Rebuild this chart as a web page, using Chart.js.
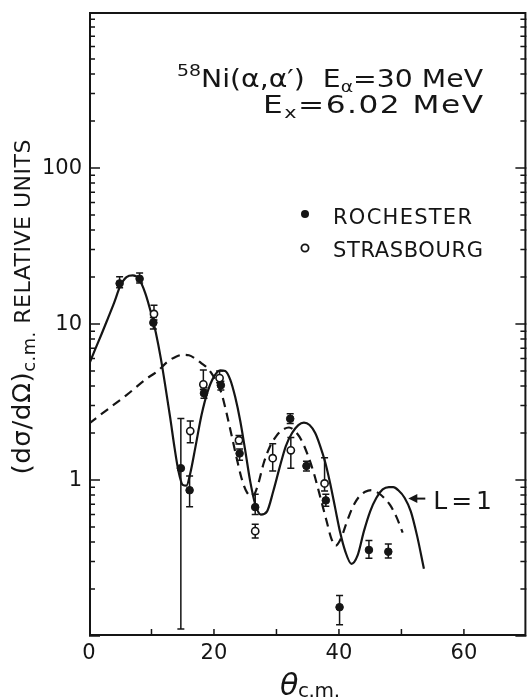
<!DOCTYPE html>
<html>
<head>
<meta charset="utf-8">
<script src="https://cdn.jsdelivr.net/npm/chart.js@4.4.1/dist/chart.umd.min.js"></script>
<style>
  html, body { margin: 0; padding: 0; background: #fff; }
  #wrap { width: 532px; height: 700px; }
</style>
</head>
<body>
<div id="wrap"><canvas id="chart" width="532" height="700"></canvas></div>
<script>
const INK = "#151515";
const FONT = "\"DejaVu Sans\", \"Liberation Sans\", sans-serif";

// Rochester data (filled circles): theta c.m. in degrees, cross section in relative units
const rochesterTheta = [4.9, 8.1, 10.3, 14.7, 16.1, 18.4, 21.1, 24.1, 26.6, 32.2, 34.8, 37.9, 40.1, 44.8, 47.9];
const rochesterSigma = [18.2, 19.5, 10.2, 1.19, 0.86, 3.6, 4.05, 1.48, 0.67, 2.47, 1.23, 0.74, 0.153, 0.356, 0.347];
const rochesterLow = [17.1, 18.3, 9.3, 0.111, 0.675, 3.34, 3.78, 1.34, 0.6, 2.30, 1.14, 0.68, 0.118, 0.315, 0.316];
const rochesterHigh = [20.1, 21.2, 11.0, 2.48, 1.06, 3.9, 4.3, 1.58, 0.81, 2.66, 1.32, 0.81, 0.182, 0.41, 0.389];

// Strasbourg data (open circles)
const strasbourgTheta = [10.4, 16.2, 18.3, 20.9, 24.0, 26.6, 29.4, 32.3, 37.7];
const strasbourgSigma = [11.6, 2.06, 4.1, 4.5, 1.80, 0.47, 1.38, 1.55, 0.95];
const strasbourgLow = [10.6, 1.73, 3.8, 4.2, 1.7, 0.425, 1.14, 1.19, 0.85];
const strasbourgHigh = [13.2, 2.39, 5.07, 5.0, 1.93, 0.52, 1.71, 1.87, 1.39];

// L=1 calculation (solid curve)
const fitTheta = [0, 1, 2, 3, 4, 5, 6, 7, 8, 9, 10, 10.7, 11.5, 12.3, 13, 13.7, 14.3, 15, 15.6, 16.2,
  17, 18, 19, 20, 21, 21.8, 22.6, 23.4, 24.2, 25, 25.8, 26.6, 27.5, 28.5, 29.5, 30.5, 31.5, 32.5, 33.5, 34.4,
  35.3, 36.2, 37, 37.8, 38.6, 39.4, 40.2, 41, 42, 43, 44, 45, 46, 47, 48, 48.7, 49.5, 50.5, 51.5, 52.5, 53.6];
const fitL1 = [5.5, 6.9, 8.6, 10.8, 13.6, 17.5, 20.0, 20.5, 19.4, 15.8, 11.5, 8.8, 6.0, 3.8, 2.5, 1.6, 1.15, 0.93, 0.92, 1.1,
  1.6, 2.6, 3.7, 4.6, 5.05, 5.0, 4.4, 3.4, 2.4, 1.55, 0.98, 0.7, 0.6, 0.63, 0.85, 1.2, 1.65, 2.0, 2.25, 2.33,
  2.25, 2.0, 1.65, 1.3, 0.95, 0.66, 0.46, 0.35, 0.29, 0.33, 0.47, 0.63, 0.77, 0.87, 0.9, 0.9, 0.86, 0.77, 0.63, 0.44, 0.27];

// second calculation (dashed curve)
const dashTheta = [0, 3, 6, 9, 11, 12.5, 14, 15, 16, 17, 18, 19, 19.8, 20.5, 21.2, 22, 22.8, 23.6, 24.4, 25.3,
  26.2, 27, 28, 29, 30, 31, 32, 33, 34, 35, 36, 37, 38, 38.8, 39.5, 40.3, 41.2, 42.2, 43.2, 44.2,
  45.2, 46.2, 47.2, 48.2, 49.2, 50.2];
const dashSigma = [2.3, 2.84, 3.5, 4.4, 5.0, 5.7, 6.2, 6.35, 6.3, 6.0, 5.6, 5.2, 4.7, 4.2, 3.6, 2.7, 1.95, 1.4, 1.03, 0.83,
  0.79, 0.92, 1.3, 1.65, 1.92, 2.1, 2.17, 2.05, 1.8, 1.45, 1.1, 0.78, 0.55, 0.42, 0.38, 0.42, 0.53, 0.67, 0.78, 0.84,
  0.86, 0.83, 0.77, 0.69, 0.58, 0.46];

const xTickValues = [0, 20, 40, 60];
const xTickLabels = ["0", "20", "40", "60"];
const xMinorTicks = [10, 20, 30, 40, 50, 60];
const yTickValues = [1, 10, 100];
const yTickLabels = ["1", "10", "100"];
const yDecades = [0.1, 1, 10, 100];

const labelTheta = 51.1;
const labelSigma = 0.76;

function toPoints(xs, ys) {
  return xs.map((x, i) => ({ x, y: ys[i] }));
}

// draws text runs (sub/superscripts) stretched a bit, then letter-spaced, to a target width
function drawRuns(ctx, runs, x, y, align, targetWidth, maxStretch) {
  let natural = 0;
  let chars = 0;
  ctx.letterSpacing = "0px";
  runs.forEach((run) => {
    ctx.font = `${run.style || ""} ${run.size}px ${FONT}`;
    run.w = ctx.measureText(run.text).width;
    natural += run.w;
    chars += [...run.text].length;
  });
  let stretch = 1;
  let gap = 0;
  if (targetWidth) {
    stretch = Math.min(maxStretch || 1, Math.max(1, targetWidth / natural));
    gap = Math.max(-2, (targetWidth - natural * stretch) / Math.max(1, chars - 1));
  }
  const total = natural * stretch + gap * (chars - 1);
  let cx = align === "right" ? x - total : align === "center" ? x - total / 2 : x;
  ctx.textAlign = "left";
  ctx.textBaseline = "alphabetic";
  runs.forEach((run) => {
    const n = [...run.text].length;
    ctx.save();
    ctx.font = `${run.style || ""} ${run.size}px ${FONT}`;
    ctx.letterSpacing = `${gap / stretch}px`;
    ctx.translate(cx, y + (run.dy || 0));
    ctx.scale(stretch, 1);
    ctx.fillText(run.text, 0, 0);
    ctx.restore();
    cx += run.w * stretch + gap * n;
  });
  ctx.letterSpacing = "0px";
}

const errorBars = {
  id: "errorBars",
  beforeDatasetsDraw(chart) {
    const { ctx, scales: { x, y } } = chart;
    const sets = [
      [rochesterTheta, rochesterLow, rochesterHigh],
      [strasbourgTheta, strasbourgLow, strasbourgHigh]
    ];
    ctx.save();
    ctx.strokeStyle = INK;
    ctx.lineWidth = 1.5;
    sets.forEach(([thetas, lows, highs]) => {
      thetas.forEach((t, i) => {
        const px = x.getPixelForValue(t);
        const top = y.getPixelForValue(highs[i]);
        const bottom = y.getPixelForValue(lows[i]);
        ctx.beginPath();
        ctx.moveTo(px, top);
        ctx.lineTo(px, bottom);
        ctx.moveTo(px - 3.5, top);
        ctx.lineTo(px + 3.5, top);
        ctx.moveTo(px - 3.5, bottom);
        ctx.lineTo(px + 3.5, bottom);
        ctx.stroke();
      });
    });
    ctx.restore();
  }
};

const frameAndText = {
  id: "frameAndText",
  afterDraw(chart) {
    const { ctx, chartArea: area, scales: { x, y } } = chart;
    ctx.save();
    ctx.strokeStyle = INK;
    ctx.fillStyle = INK;

    // frame
    ctx.lineWidth = 2;
    ctx.strokeRect(area.left + 1, area.top + 1, area.right - area.left - 2, area.bottom - area.top - 2);

    // inward ticks
    ctx.lineWidth = 1.5;
    ctx.beginPath();
    xMinorTicks.forEach((v) => {
      const px = x.getPixelForValue(v);
      ctx.moveTo(px, area.bottom);
      ctx.lineTo(px, area.bottom - 7);
    });
    yDecades.forEach((d) => {
      for (let m = 1; m <= 9; m++) {
        const py = y.getPixelForValue(d * m);
        const len = m === 1 ? 11 : 6;
        ctx.moveTo(area.left, py);
        ctx.lineTo(area.left + len, py);
        ctx.moveTo(area.right, py);
        ctx.lineTo(area.right - len, py);
      }
    });
    ctx.stroke();

    // tick labels
    ctx.font = `21px ${FONT}`;
    ctx.textAlign = "center";
    ctx.textBaseline = "top";
    xTickValues.forEach((v, i) => {
      ctx.fillText(xTickLabels[i], x.getPixelForValue(v), area.bottom + 7);
    });
    ctx.textAlign = "right";
    ctx.textBaseline = "middle";
    yTickValues.forEach((v, i) => {
      ctx.fillText(yTickLabels[i], area.left - 7, y.getPixelForValue(v) + 1);
    });

    // axis titles
    drawRuns(ctx, [
      { text: "θ", size: 30, style: "italic" },
      { text: "c.m.", size: 20, dy: 2 }
    ], 310, 695, "center", 60, 1);

    ctx.save();
    ctx.translate(30, 307);
    ctx.rotate(-Math.PI / 2);
    drawRuns(ctx, [
      { text: "(dσ/dΩ)", size: 25 },
      { text: "c.m.", size: 17, dy: 5 },
      { text: " RELATIVE UNITS", size: 21 }
    ], 0, 0, "center", 335, 1.05);
    ctx.restore();

    // reaction header
    drawRuns(ctx, [
      { text: "58", size: 16, dy: -11 },
      { text: "Ni(α,α′)  E", size: 24 },
      { text: "α", size: 16, dy: 5 },
      { text: "=30 MeV", size: 24 }
    ], 483, 87, "right", 306, 1.25);
    drawRuns(ctx, [
      { text: "E", size: 24 },
      { text: "x", size: 16, dy: 5 },
      { text: "=6.02 MeV", size: 24 }
    ], 483, 113, "right", 220, 1.3);

    // legend
    ctx.beginPath();
    ctx.arc(305, 214, 4, 0, Math.PI * 2);
    ctx.fill();
    ctx.beginPath();
    ctx.lineWidth = 1.8;
    ctx.arc(305, 248, 3.6, 0, Math.PI * 2);
    ctx.stroke();
    drawRuns(ctx, [{ text: "ROCHESTER", size: 21 }], 333, 224, "left", 139, 1);
    drawRuns(ctx, [{ text: "STRASBOURG", size: 21 }], 333, 257, "left", 150, 1);

    // L=1 arrow label
    const ax = x.getPixelForValue(labelTheta);
    const ay = y.getPixelForValue(labelSigma);
    ctx.lineWidth = 2;
    ctx.beginPath();
    ctx.moveTo(ax + 6, ay);
    ctx.lineTo(ax + 17, ay);
    ctx.stroke();
    ctx.beginPath();
    ctx.moveTo(ax, ay);
    ctx.lineTo(ax + 9, ay - 4.5);
    ctx.lineTo(ax + 9, ay + 4.5);
    ctx.closePath();
    ctx.fill();
    drawRuns(ctx, [{ text: "L = 1", size: 25 }], ax + 25, ay + 10, "left", 42, 1);

    ctx.restore();
  }
};

new Chart(document.getElementById("chart"), {
  type: "scatter",
  data: {
    datasets: [
      {
        label: "ROCHESTER",
        data: toPoints(rochesterTheta, rochesterSigma),
        pointStyle: "circle",
        pointRadius: 3.8,
        backgroundColor: INK,
        borderColor: INK,
        borderWidth: 1,
        order: 0
      },
      {
        label: "STRASBOURG",
        data: toPoints(strasbourgTheta, strasbourgSigma),
        pointStyle: "circle",
        pointRadius: 3.6,
        backgroundColor: "#ffffff",
        borderColor: INK,
        borderWidth: 1.6,
        order: 1
      },
      {
        label: "L=1",
        data: toPoints(fitTheta, fitL1),
        showLine: true,
        pointRadius: 0,
        borderColor: INK,
        borderWidth: 2.2,
        cubicInterpolationMode: "monotone",
        order: 2
      },
      {
        label: "dashed",
        data: toPoints(dashTheta, dashSigma),
        showLine: true,
        pointRadius: 0,
        borderColor: INK,
        borderWidth: 2.2,
        borderDash: [9, 6],
        cubicInterpolationMode: "monotone",
        order: 3
      }
    ]
  },
  options: {
    responsive: false,
    animation: false,
    devicePixelRatio: 1,
    layout: { padding: { top: 12, right: 0, bottom: 0, left: 0 } },
    plugins: {
      legend: { display: false },
      tooltip: { enabled: false }
    },
    scales: {
      x: {
        type: "linear",
        min: 0,
        max: 70,
        grid: { display: false },
        border: { display: false },
        ticks: { display: false },
        afterFit: (scale) => { scale.height = 64; }
      },
      y: {
        type: "logarithmic",
        min: 0.1,
        max: 1000,
        grid: { display: false },
        border: { display: false },
        ticks: { display: false },
        afterFit: (scale) => { scale.width = 89; }
      }
    }
  },
  plugins: [errorBars, frameAndText]
});
</script>
</body>
</html>
